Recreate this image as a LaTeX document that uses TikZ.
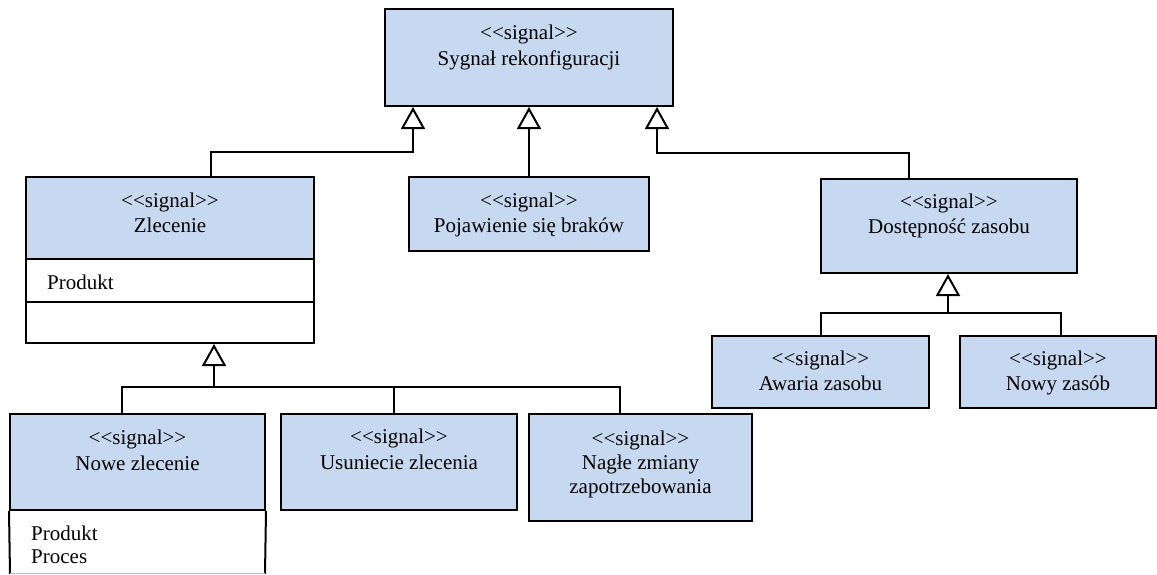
\documentclass[tikz,border=0pt]{standalone}
\usepackage{fontspec}
\setmainfont{Liberation Serif}
\usetikzlibrary{arrows.meta}
\definecolor{sigblue}{RGB}{198,217,241}
\newcommand{\stereo}{<{}<signal>{}>}
\begin{document}
\begin{tikzpicture}[x=1pt,y=-1pt,
  box/.style={draw=black,line width=2pt,fill=sigblue,rectangle,inner sep=0pt},
  cmp/.style={draw=black,line width=2pt,fill=white,rectangle,inner sep=0pt},
  txt/.style={anchor=base,inner sep=0pt,font=\fontsize{21}{26}\selectfont},
  atxt/.style={anchor=base west,inner sep=0pt,font=\fontsize{21}{26}\selectfont},
  conn/.style={draw=black,line width=2pt},
  gen/.style={conn,-{Triangle[open,length=22pt,width=24pt]}}]
\useasboundingbox (0,0) rectangle (1157,574);

% boxes
\node[box,minimum width=288pt,minimum height=97pt] (top) at (529,57.5) {};
\node[box,minimum width=288pt,minimum height=82pt] (zl) at (170,218) {};
\node[cmp,minimum width=288pt,minimum height=43pt] (zla) at (170,280.5) {};
\node[cmp,minimum width=288pt,minimum height=41pt] (zlo) at (170,322.5) {};
\node[box,minimum width=240pt,minimum height=74pt] (poj) at (529,214) {};
\node[box,minimum width=256pt,minimum height=94pt] (dos) at (949,226) {};
\node[box,minimum width=217pt,minimum height=72pt] (awa) at (820.5,372) {};
\node[box,minimum width=196pt,minimum height=72pt] (nowy) at (1058,372) {};
\node[box,minimum width=255pt,minimum height=96pt] (nz) at (137.5,462) {};
\node[box,minimum width=236pt,minimum height=96pt] (usu) at (399,462) {};
\node[box,minimum width=223pt,minimum height=107pt] (nag) at (640.5,467.5) {};

% Nowe zlecenie attribute compartment (clipped at bottom)
\draw[conn] (nz.south west) -- (10,574);
\draw[conn] (nz.south east) -- (265,574);
\draw[gray!45,line width=1pt] (10,573.5) -- (265,573.5);

% texts
\node[txt] (ttop1) at (529,39) {\stereo};
\node[txt] (ttop2) at (529,65) {Sygnał rekonfiguracji};
\node[txt] (tzl1) at (170,207) {\stereo};
\node[txt] (tzl2) at (170,232) {Zlecenie};
\node[atxt] (tzla) at (47,289) {Produkt};
\node[txt] (tpoj1) at (529,207) {\stereo};
\node[txt] (tpoj2) at (529,232) {Pojawienie się braków};
\node[txt] (tdos1) at (949,208) {\stereo};
\node[txt] (tdos2) at (949,233) {Dostępność zasobu};
\node[txt] (tawa1) at (820.5,365) {\stereo};
\node[txt] (tawa2) at (820.5,390) {Awaria zasobu};
\node[txt] (tnowy1) at (1058,365) {\stereo};
\node[txt] (tnowy2) at (1058,390) {Nowy zasób};
\node[txt] (tnz1) at (137.5,444) {\stereo};
\node[txt] (tnz2) at (137.5,470) {Nowe zlecenie};
\node[atxt] (tnza1) at (31,540) {Produkt};
\node[atxt] (tnza2) at (31,563) {Proces};
\node[txt] (tusu1) at (399,443) {\stereo};
\node[txt] (tusu2) at (399,469) {Usuniecie zlecenia};
\node[txt] (tnag1) at (640.5,445) {\stereo};
\node[txt] (tnag2) at (640.5,469) {Nagłe zmiany};
\node[txt] (tnag3) at (640.5,493) {zapotrzebowania};

% generalizations to top
\draw[gen] ([xshift=41pt]zl.north) -- ++(0,-24) -| ([xshift=-116pt]top.south);
\draw[gen] (poj.north) -- (top.south);
\draw[gen] ([xshift=-40pt]dos.north) -- ++(0,-25) -| ([xshift=128pt]top.south);

% generalizations to Zlecenie
\coordinate (nzd) at ([xshift=-15.5pt]nz.north);
\draw[gen] (nzd) -- ++(0,-26) -| ([xshift=44pt]zlo.south);
\draw[conn] ([xshift=-20.5pt]nag.north) -- ++(0,-26) coordinate (bz) -- (bz -| nzd);
\draw[conn] ([xshift=-5pt]usu.north) -- ++(0,-26);

% generalizations to Dostepnosc
\draw[gen] (awa.north) -- ++(0,-22) -| ([xshift=-1pt]dos.south);
\draw[conn] ([xshift=3pt]nowy.north) -- ++(0,-22) coordinate (bd) -- (bd -| awa.north);
\end{tikzpicture}
\end{document}
